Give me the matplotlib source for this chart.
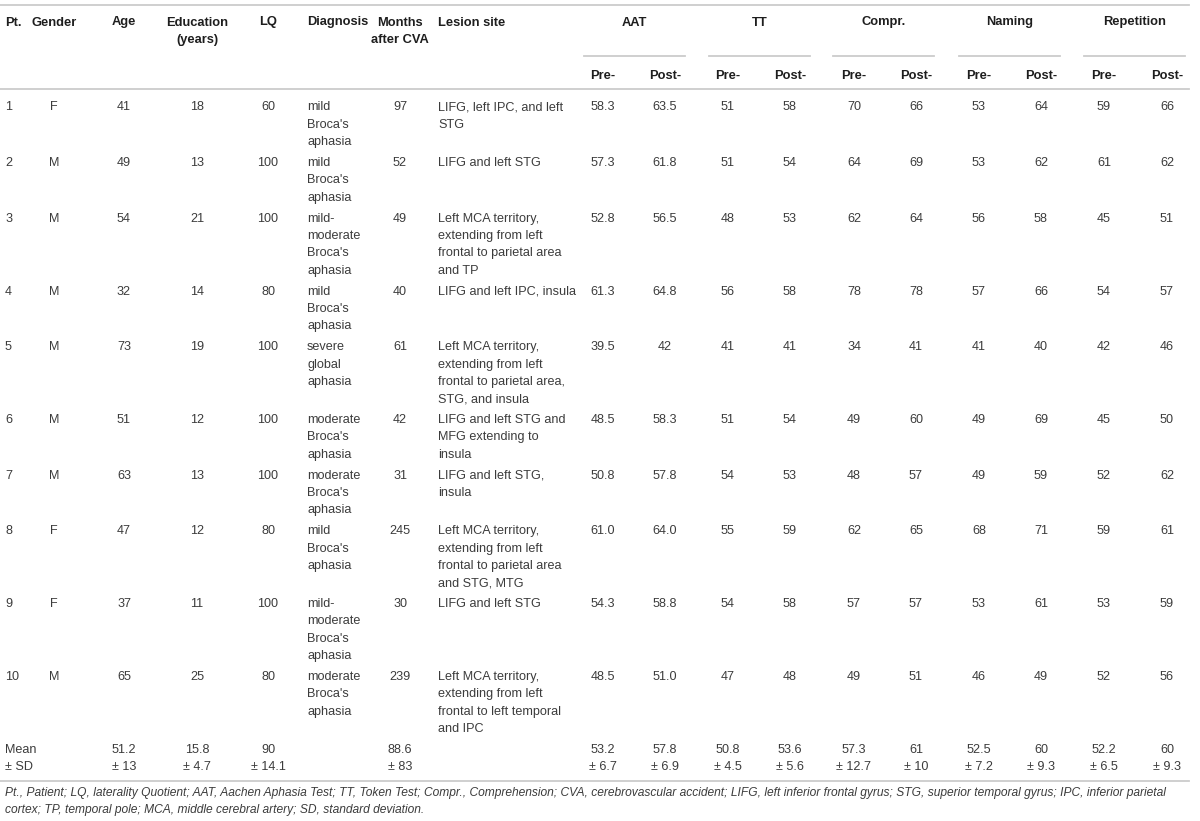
import matplotlib
matplotlib.use('Agg')
import matplotlib.pyplot as plt

# table contents
pt = ['1', '2', '3', '4', '5', '6', '7', '8', '9', '10']
gender = ['F', 'M', 'M', 'M', 'M', 'M', 'M', 'F', 'F', 'M']
age = [41, 49, 54, 32, 73, 51, 63, 47, 37, 65]
education = [18, 13, 21, 14, 19, 12, 13, 12, 11, 25]
lq = [60, 100, 100, 80, 100, 100, 100, 80, 100, 80]
diagnosis = ["mild\nBroca's\naphasia", "mild\nBroca's\naphasia",
             "mild-\nmoderate\nBroca's\naphasia", "mild\nBroca's\naphasia",
             "severe\nglobal\naphasia", "moderate\nBroca's\naphasia",
             "moderate\nBroca's\naphasia", "mild\nBroca's\naphasia",
             "mild-\nmoderate\nBroca's\naphasia", "moderate\nBroca's\naphasia"]
months = [97, 52, 49, 40, 61, 42, 31, 245, 30, 239]
lesion = ["LIFG, left IPC, and left\nSTG",
          "LIFG and left STG",
          "Left MCA territory,\nextending from left\nfrontal to parietal area\nand TP",
          "LIFG and left IPC, insula",
          "Left MCA territory,\nextending from left\nfrontal to parietal area,\nSTG, and insula",
          "LIFG and left STG and\nMFG extending to\ninsula",
          "LIFG and left STG,\ninsula",
          "Left MCA territory,\nextending from left\nfrontal to parietal area\nand STG, MTG",
          "LIFG and left STG",
          "Left MCA territory,\nextending from left\nfrontal to left temporal\nand IPC"]
aat_pre = ['58.3', '57.3', '52.8', '61.3', '39.5', '48.5', '50.8', '61.0', '54.3', '48.5']
aat_post = ['63.5', '61.8', '56.5', '64.8', '42', '58.3', '57.8', '64.0', '58.8', '51.0']
tt_pre = [51, 51, 48, 56, 41, 51, 54, 55, 54, 47]
tt_post = [58, 54, 53, 58, 41, 54, 53, 59, 58, 48]
compr_pre = [70, 64, 62, 78, 34, 49, 48, 62, 57, 49]
compr_post = [66, 69, 64, 78, 41, 60, 57, 65, 57, 51]
naming_pre = [53, 53, 56, 57, 41, 49, 49, 68, 53, 46]
naming_post = [64, 62, 58, 66, 40, 69, 59, 71, 61, 49]
rep_pre = [59, 61, 45, 54, 42, 45, 52, 59, 53, 52]
rep_post = [66, 62, 51, 57, 46, 50, 62, 61, 59, 56]

# mean and SD row (age, education, LQ, months, then the ten test columns)
mean_vals = ['51.2', '15.8', '90', '88.6', '53.2', '57.8', '50.8', '53.6',
             '57.3', '61', '52.5', '60', '52.2', '60']
sd_vals = ['13', '4.7', '14.1', '83', '6.7', '6.9', '4.5', '5.6',
           '12.7', '10', '7.2', '9.3', '6.5', '9.3']

groups = ['AAT', 'TT', 'Compr.', 'Naming', 'Repetition']
footnote = ["Pt., Patient; LQ, laterality Quotient; AAT, Aachen Aphasia Test; TT, Token Test; "
            "Compr., Comprehension; CVA, cerebrovascular accident; LIFG, left inferior frontal gyrus; "
            "STG, superior temporal gyrus; IPC, inferior parietal",
            "cortex; TP, temporal pole; MCA, middle cerebral artery; SD, standard deviation."]

plt.rcParams['font.family'] = ['Liberation Sans', 'DejaVu Sans']

fig = plt.figure(figsize=(12, 8.21), dpi=100)
ax = fig.add_axes([0, 0, 1, 1])
ax.set_xlim(0, 1200)
ax.set_ylim(821, 0)
ax.axis('off')

line_col = '#cccccc'
head_col = '#1e1e1e'
body_col = '#3c3c3c'
fs = 9.1
fs_head = 9.3
pitch = 17.3
gap = 3.7

# column x positions and alignment
cols = [(5, 'left'), (54, 'center'), (124, 'center'), (197, 'center'), (268, 'center'),
        (307, 'left'), (400, 'center'), (438, 'left')]
grp_x0 = [584, 709, 833, 959, 1084]
grp_w = 101
pre_x = [603, 728, 854, 979, 1104]
post_x = [665, 790, 916, 1041, 1167]

def put(x, y, s, ha, **kw):
    for i, ln in enumerate(str(s).split('\n')):
        ax.text(x, y + i * pitch, ln, ha=ha, va='baseline', fontsize=kw.get('size', fs),
                color=kw.get('color', body_col), fontweight=kw.get('weight', 'normal'),
                fontstyle=kw.get('style', 'normal'))

# rules
ax.plot([0, 1189], [4.7, 4.7], color=line_col, lw=1.3)
ax.plot([0, 1189], [89.3, 89.3], color=line_col, lw=1.3)
ax.plot([0, 1189], [781, 781], color=line_col, lw=1.3)
for x0 in grp_x0:
    ax.plot([x0, x0 + grp_w], [55.7, 55.7], color=line_col, lw=1.3)

# header
heads = ['Pt.', 'Gender', 'Age', 'Education\n(years)', 'LQ', 'Diagnosis',
         'Months\nafter CVA', 'Lesion site']
for (x, ha), h in zip(cols, heads):
    put(x, 25.5, h, ha, color=head_col, weight='bold', size=fs_head)
for g, x0, xp, xq in zip(groups, grp_x0, pre_x, post_x):
    put(x0 + grp_w / 2, 25.5, g, 'center', color=head_col, weight='bold', size=fs_head)
    put(xp, 79, 'Pre-', 'center', color=head_col, weight='bold', size=fs_head)
    put(xq, 79, 'Post-', 'center', color=head_col, weight='bold', size=fs_head)

# body rows
tests = [aat_pre, aat_post, tt_pre, tt_post, compr_pre, compr_post,
         naming_pre, naming_post, rep_pre, rep_post]
test_x = [v for pair in zip(pre_x, post_x) for v in pair]
y = 110.5
for i in range(len(pt)):
    left = [pt[i], gender[i], age[i], education[i], lq[i], diagnosis[i], months[i], lesion[i]]
    for (x, ha), v in zip(cols, left):
        put(x, y, v, ha)
    for x, col in zip(test_x, tests):
        put(x, y, col[i], 'center')
    nl = max(str(v).count('\n') + 1 for v in left)
    y += nl * pitch + gap

# mean row
y_mean = 753
put(5, y_mean, 'Mean\n\u00b1 SD', 'left')
mean_x = [124, 197, 268, 400] + test_x
for x, m, s in zip(mean_x, mean_vals, sd_vals):
    put(x, y_mean, m + '\n\u00b1 ' + s, 'center')

# footnote
for k, ln in enumerate(footnote):
    ax.text(5, 796 + k * 16.5, ln, ha='left', va='baseline', fontsize=8.65,
            color=body_col, fontstyle='italic')

fig.savefig('out.png', dpi=100)
